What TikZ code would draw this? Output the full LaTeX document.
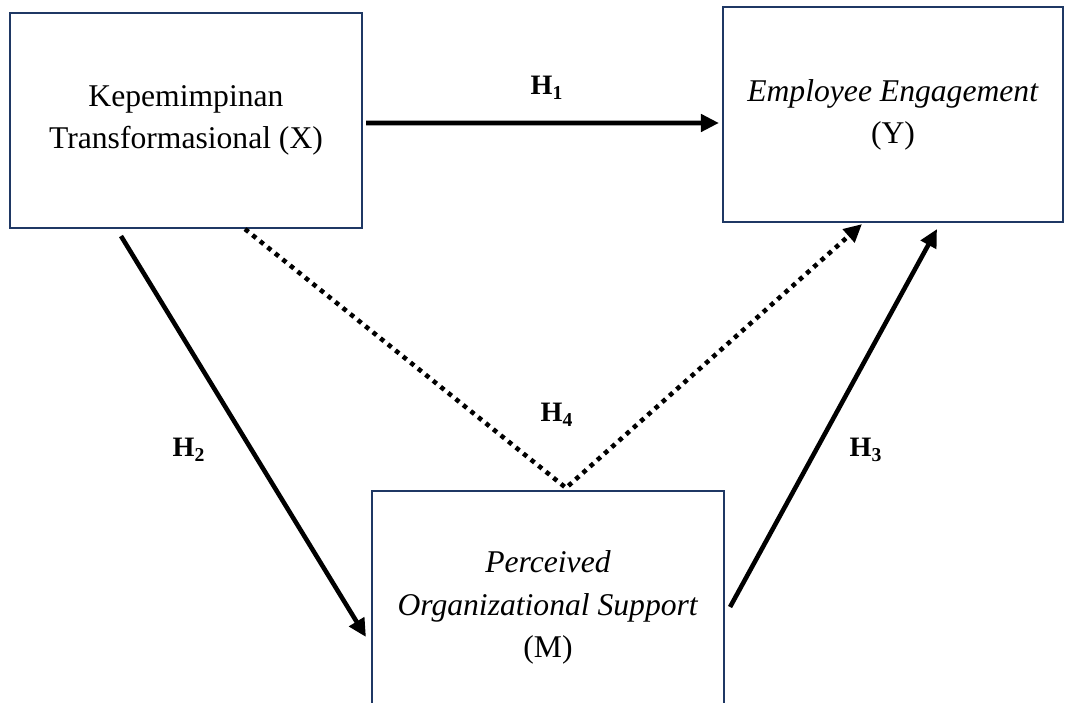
\documentclass[tikz,border=0pt]{standalone}
\usepackage{fontspec}
\setmainfont{Liberation Serif}
\usepackage{xcolor}
\definecolor{boxnavy}{RGB}{31,56,100}
\usetikzlibrary{arrows.meta,positioning,calc}

\begin{document}
\begin{tikzpicture}[
  varbox/.style={draw=boxnavy, line width=1.2pt, minimum width=7.04cm, minimum height=4.3cm, align=center, inner sep=0pt, font=\fontsize{18}{24}\selectfont},
  link/.style={line width=2.6pt, -{Triangle[length=0.36cm, width=0.34cm]}},
  indirect/.style={link, line cap=butt, dash pattern=on 2.6pt off 2.9pt},
  hlabel/.style={anchor=base, font=\fontsize{16}{18}\selectfont\bfseries}
]
  \useasboundingbox[fill=white] (0,0) rectangle (21.32,14.06);

  % variables
  \node[varbox] (kx) at (3.72,11.65) {Kepemimpinan\\Transformasional (X)};
  \node[varbox, minimum width=6.8cm] (ky) at (17.86,11.77) {\textit{Employee Engagement}\\(Y)};
  \node[varbox, minimum height=4.66cm] (km) at (10.96,1.91) {\textit{Perceived}\\\textit{Organizational Support}\\(M)};

  % paths
  \draw[link] ([shift={(0.06,-0.05)}]kx.east) -- ([shift={(-0.06,-0.17)}]ky.west);
  \draw[link] ([shift={(-1.30,-0.14)}]kx.south) -- ([shift={(-0.10,-0.59)}]km.west);
  \draw[link] ([shift={(0.10,0.01)}]km.east) -- ([shift={(0.88,-0.12)}]ky.south);
  \coordinate (apex) at ([shift={(0.36,0.04)}]km.north);
  \draw[indirect] ([xshift=1.18cm]kx.south) -- (apex) -- ([shift={(-0.62,-0.02)}]ky.south);

  % hypotheses
  \node[hlabel] (h1) at (10.94,12.16) {H\textsubscript{1}};
  \node[hlabel] (h2) at (3.78,4.92) {H\textsubscript{2}};
  \node[hlabel] (h3) at (17.32,4.92) {H\textsubscript{3}};
  \node[hlabel] (h4) at (11.14,5.62) {H\textsubscript{4}};
\end{tikzpicture}
\end{document}
